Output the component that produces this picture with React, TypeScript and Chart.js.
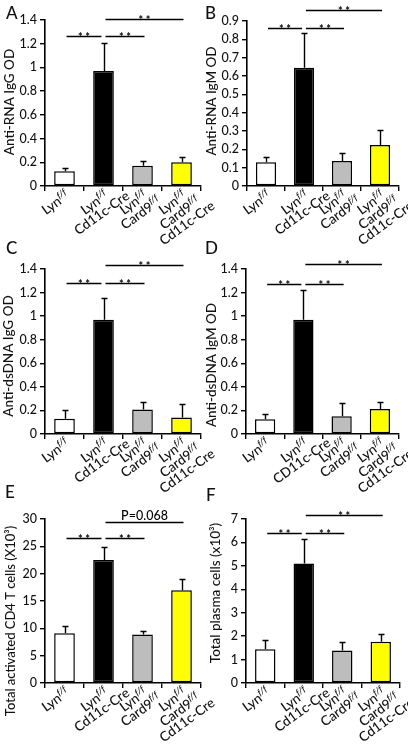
import React, { useEffect, useRef } from "react";
import { Chart, registerables } from "chart.js";

Chart.register(...registerables);

// ---------- data ----------
const groups = ["Lyn f/f", "Lyn f/f Cd11c-Cre", "Lyn f/f Card9 f/f", "Lyn f/f Card9 f/f Cd11c-Cre"];
const labelLines = [["Lyn^f/f"], ["Lyn^f/f", "Cd11c-Cre"], ["Lyn^f/f", "Card9^f/f"], ["Lyn^f/f", "Card9^f/f", "Cd11c-Cre"]];
const labelLinesD = [["Lyn^f/f"], ["Lyn^f/f", "CD11c-Cre"], ["Lyn^f/f", "Card9^f/f"], ["Lyn^f/f", "Card9^f/f", "Cd11c-Cre"]];
const barColors = ["#ffffff", "#000000", "#bdbdbd", "#ffff00"];

const rnaIgGMean = [0.125, 0.97, 0.17, 0.2];
const rnaIgGErr = [0.025, 0.24, 0.043, 0.042];
const rnaIgMMean = [0.13, 0.645, 0.137, 0.223];
const rnaIgMErr = [0.03, 0.19, 0.043, 0.082];
const dsIgGMean = [0.13, 0.97, 0.208, 0.14];
const dsIgGErr = [0.072, 0.185, 0.06, 0.115];
const dsIgMMean = [0.125, 0.97, 0.15, 0.213];
const dsIgMErr = [0.045, 0.25, 0.11, 0.062];
const cd4Mean = [9.1, 22.5, 8.85, 16.95];
const cd4Err = [1.25, 2.45, 0.75, 2.1];
const plasmaMean = [1.44, 5.1, 1.39, 1.76];
const plasmaErr = [0.39, 1.05, 0.35, 0.35];

// brackets: [fromIndex, toIndex, yValue, label]
const bracketsA: [number, number, number, string][] = [[0, 1, 1.265, "**"], [1, 2, 1.265, "**"], [1, 3, 1.41, "**"]];
const bracketsB: [number, number, number, string][] = [[0, 1, 0.862, "**"], [1, 2, 0.862, "**"], [1, 3, 0.96, "**"]];
const bracketsC: [number, number, number, string][] = [[0, 1, 1.278, "**"], [1, 2, 1.278, "**"], [1, 3, 1.43, "**"]];
const bracketsD: [number, number, number, string][] = [[0, 1, 1.276, "**"], [1, 2, 1.276, "**"], [1, 3, 1.44, "**"]];
const bracketsE: [number, number, number, string][] = [[0, 1, 26.5, "**"], [1, 2, 26.5, "**"], [1, 3, 29.5, "P=0.068"]];
const bracketsF: [number, number, number, string][] = [[0, 1, 6.39, "**"], [1, 2, 6.39, "**"], [1, 3, 7.17, "**"]];

const yMaxes = [1.4, 0.9, 1.4, 1.4, 30, 7];
const ySteps = [0.2, 0.1, 0.2, 0.2, 5, 1];
const yTitles = [
  "Anti-RNA IgG OD",
  "Anti-RNA IgM OD",
  "Anti-dsDNA IgG OD",
  "Anti-dsDNA IgM OD",
  "Total activated CD4 T cells (X10³)",
  "Total plasma cells (x10³)",
];
const panelLetters = ["A", "B", "C", "D", "E", "F"];

// ---------- layout (positions/styles) ----------
const FONT = "Lato, 'Open Sans', sans-serif";
const W = 500;
const PH = 250;
const layouts = [
  { x: 0, y: 0, w: 216, L: 45, T: 20, R: 201, B: 186, tx: 10, ty: 102, ts: 13.5, lx: 6, ly: 4 },
  { x: 204, y: 0, w: 204, L: 43, T: 21, R: 195, B: 186, tx: 8, ty: 101, ts: 13.5, lx: 1, ly: 4 },
  { x: 0, y: 250, w: 216, L: 45, T: 19, R: 201, B: 184, tx: 9, ty: 106, ts: 13.5, lx: 6, ly: -11 },
  { x: 204, y: 250, w: 204, L: 42, T: 19, R: 195, B: 184, tx: 8, ty: 115, ts: 13.5, lx: 1, ly: -11 },
  { x: 0, y: 500, w: 216, L: 45, T: 19, R: 201, B: 183, tx: 11, ty: 121, ts: 13, lx: 5, ly: -17 },
  { x: 204, y: 500, w: 204, L: 42, T: 19, R: 196, B: 183, tx: 12, ty: 93, ts: 13.5, lx: 2, ly: -14 },
];

const panels = [
  { mean: rnaIgGMean, err: rnaIgGErr, brackets: bracketsA, labels: labelLines },
  { mean: rnaIgMMean, err: rnaIgMErr, brackets: bracketsB, labels: labelLines },
  { mean: dsIgGMean, err: dsIgGErr, brackets: bracketsC, labels: labelLines },
  { mean: dsIgMMean, err: dsIgMErr, brackets: bracketsD, labels: labelLinesD },
  { mean: cd4Mean, err: cd4Err, brackets: bracketsE, labels: labelLines },
  { mean: plasmaMean, err: plasmaErr, brackets: bracketsF, labels: labelLines },
];

const LABEL_ANGLE = (36 * Math.PI) / 180;
const LABEL_SIZE = 13.5;
const SUP_SIZE = 9;
const LINE_H = 12.5;

function parseLine(s: string): { t: string; sup: boolean }[] {
  const idx = s.indexOf("^");
  if (idx < 0) return [{ t: s, sup: false }];
  return [
    { t: s.slice(0, idx), sup: false },
    { t: s.slice(idx + 1), sup: true },
  ];
}

function Panel({ i }: { i: number }) {
  const ref = useRef<HTMLCanvasElement | null>(null);
  const lay = layouts[i];
  useEffect(() => {
    const p = panels[i];
    const fmt = (v: number) => String(parseFloat(Number(v).toFixed(2)));
    const decor = {
      id: "decor" + i,
      afterDraw(chart: any) {
        const ctx: CanvasRenderingContext2D = chart.ctx;
        const ys = chart.scales.y;
        const meta = chart.getDatasetMeta(0);
        const area = chart.chartArea;
        ctx.save();
        ctx.strokeStyle = "#000";
        ctx.fillStyle = "#000";
        // error bars (upper only)
        ctx.lineWidth = 1.4;
        p.mean.forEach((m, k) => {
          const x = Math.round(meta.data[k].x) + 0.5;
          const y0 = ys.getPixelForValue(m);
          const y1 = Math.round(ys.getPixelForValue(m + p.err[k])) + 0.5;
          ctx.beginPath();
          ctx.moveTo(x, y0);
          ctx.lineTo(x, y1);
          ctx.moveTo(x - 3, y1);
          ctx.lineTo(x + 3, y1);
          ctx.stroke();
        });
        // significance brackets
        ctx.lineWidth = 1.5;
        p.brackets.forEach(([a, b, v, txt]) => {
          const xa = meta.data[a].x + 2;
          const xb = meta.data[b].x + (b === 1 ? -2 : 2);
          const y = Math.round(ys.getPixelForValue(v)) + 0.5;
          ctx.beginPath();
          ctx.moveTo(xa, y);
          ctx.lineTo(xb, y);
          ctx.stroke();
          ctx.textAlign = "center";
          ctx.textBaseline = "alphabetic";
          if (txt === "**") {
            ctx.font = `bold 11px ${FONT}`;
            ctx.fillText("* *", (xa + xb) / 2, y + 4);
          } else {
            ctx.font = `${W} 12.5px ${FONT}`;
            ctx.fillText(txt, (xa + xb) / 2, y - 3);
          }
        });
        // x labels (rotated, with superscripts)
        ctx.fillStyle = "#111";
        p.labels.forEach((lines, k) => {
          const cx = meta.data[k].x - 9;
          const cy = area.bottom + 17;
          ctx.save();
          ctx.translate(cx, cy);
          ctx.rotate(-LABEL_ANGLE);
          ctx.textBaseline = "middle";
          ctx.textAlign = "left";
          lines.forEach((ln, j) => {
            const segs = parseLine(ln);
            const setFont = (sup: boolean) => {
              ctx.font = sup ? `italic ${W} ${SUP_SIZE}px ${FONT}` : `${W} ${LABEL_SIZE}px ${FONT}`;
            };
            let w = 0;
            segs.forEach((s) => {
              setFont(s.sup);
              w += ctx.measureText(s.t).width;
            });
            let x = -w / 2;
            const y = j * LINE_H;
            segs.forEach((s) => {
              setFont(s.sup);
              ctx.fillText(s.t, x, s.sup ? y - 4 : y);
              x += ctx.measureText(s.t).width;
            });
          });
          ctx.restore();
        });
        // y title
        ctx.save();
        ctx.translate(lay.tx, lay.ty);
        ctx.rotate(-Math.PI / 2);
        ctx.font = `${W} ${lay.ts}px ${FONT}`;
        ctx.fillStyle = "#111";
        ctx.textAlign = "center";
        ctx.textBaseline = "middle";
        ctx.fillText(yTitles[i], 0, 0);
        ctx.restore();
        ctx.restore();
      },
    };
    const chart = new Chart(ref.current as HTMLCanvasElement, {
      type: "bar",
      data: {
        labels: groups,
        datasets: [
          {
            data: p.mean,
            backgroundColor: barColors,
            borderColor: "#000",
            borderWidth: 1.5,
            borderSkipped: false,
            barPercentage: 0.53,
            categoryPercentage: 1,
          },
        ],
      },
      options: {
        responsive: false,
        animation: false,
        devicePixelRatio: 1,
        layout: { padding: { left: 0, top: lay.T, right: lay.w - lay.R, bottom: 0 } },
        plugins: { legend: { display: false }, tooltip: { enabled: false } },
        scales: {
          x: {
            grid: { display: true, drawOnChartArea: false, drawTicks: true, tickLength: 5, color: "#000", lineWidth: 1.4, offset: true },
            border: { display: true, color: "#000", width: 1.6 },
            ticks: { display: false },
            afterFit: (s: any) => {
              s.height = PH - lay.B;
            },
          },
          y: {
            min: 0,
            max: yMaxes[i],
            ticks: {
              stepSize: ySteps[i],
              color: "#111",
              font: { family: FONT, size: 12.5, weight: W },
              padding: 3,
              callback: (v: any) => fmt(v),
            },
            grid: { drawOnChartArea: false, tickLength: 5, color: "#000", lineWidth: 1.4 },
            border: { display: true, color: "#000", width: 1.6 },
            afterFit: (s: any) => {
              s.width = lay.L;
            },
          },
        },
      },
      plugins: [decor],
    } as any);
    return () => chart.destroy();
  }, [i]);
  return (
    <>
      <canvas
        ref={ref}
        width={lay.w}
        height={PH}
        style={{ position: "absolute", left: lay.x, top: lay.y, width: lay.w, height: PH }}
      />
      <div
        style={{
          position: "absolute",
          left: lay.x + lay.lx,
          top: lay.y + lay.ly,
          font: `${W} 17px ${FONT}`,
          lineHeight: "17px",
          color: "#111",
        }}
      >
        {panelLetters[i]}
      </div>
    </>
  );
}

export default function App() {
  return (
    <div style={{ position: "absolute", left: 0, top: 0, width: 408, height: 750, background: "#fff", overflow: "hidden" }}>
      {[0, 1, 2, 3, 4, 5].map((i) => (
        <Panel key={i} i={i} />
      ))}
    </div>
  );
}
